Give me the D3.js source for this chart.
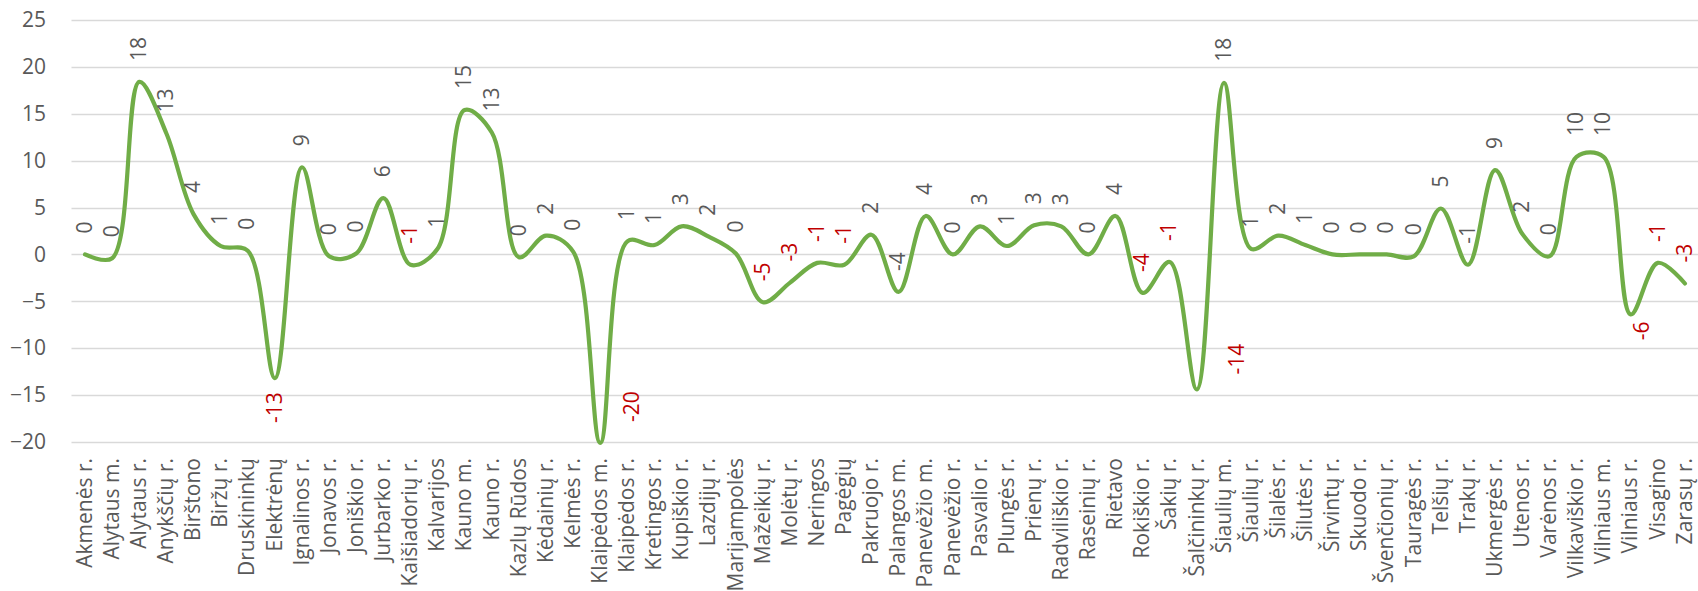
<!DOCTYPE html>
<html>
<head>
<meta charset="utf-8">
<script src="https://cdn.jsdelivr.net/npm/d3@7"></script>
<style>
  html, body { margin: 0; padding: 0; background: #ffffff; }
  svg { display: block; }
  text { font-family: "Open Sans", "Noto Sans", sans-serif; }
</style>
</head>
<body>
<svg id="chart" width="1698" height="591"></svg>
<script>
// ---- data ----
const categories = [
  "Akmenės r.", "Alytaus m.", "Alytaus r.", "Anykščių r.", "Birštono", "Biržų r.",
  "Druskininkų", "Elektrėnų", "Ignalinos r.", "Jonavos r.", "Joniškio r.", "Jurbarko r.",
  "Kaišiadorių r.", "Kalvarijos", "Kauno m.", "Kauno r.", "Kazlų Rūdos", "Kėdainių r.",
  "Kelmės r.", "Klaipėdos m.", "Klaipėdos r.", "Kretingos r.", "Kupiškio r.", "Lazdijų r.",
  "Marijampolės", "Mažeikių r.", "Molėtų r.", "Neringos", "Pagėgių", "Pakruojo r.",
  "Palangos m.", "Panevėžio m.", "Panevėžio r.", "Pasvalio r.", "Plungės r.", "Prienų r.",
  "Radviliškio r.", "Raseinių r.", "Rietavo", "Rokiškio r.", "Šakių r.", "Šalčininkų r.",
  "Šiaulių m.", "Šiaulių r.", "Šilalės r.", "Šilutės r.", "Širvintų r.", "Skuodo r.",
  "Švenčionių r.", "Tauragės r.", "Telšių r.", "Trakų r.", "Ukmergės r.", "Utenos r.",
  "Varėnos r.", "Vilkaviškio r.", "Vilniaus m.", "Vilniaus r.", "Visagino", "Zarasų r."
];
const values = [
  0.0, -0.4, 18.4, 12.9, 4.3, 0.9,
  0.4, -13.2, 9.3, -0.2, 0.1, 6.0,
  -1.1, 0.6, 15.4, 13.0, -0.3, 2.0,
  0.3, -20.1, 1.4, 1.0, 3.0, 1.9,
  0.1, -5.1, -3.0, -0.9, -1.1, 2.1,
  -4.0, 4.1, 0.0, 3.0, 0.9, 3.1,
  3.0, 0.0, 4.1, -4.1, -0.8, -14.4,
  18.3, 0.6, 2.0, 1.0, 0.0, 0.0,
  0.0, -0.2, 4.9, -1.1, 9.0, 2.2,
  -0.2, 10.4, 10.4, -6.4, -0.9, -3.1
];
const yTicks = [25, 20, 15, 10, 5, 0, -5, -10, -15, -20];

// ---- layout / style config ----
const W = 1698, H = 591;
const plot = { left: 71.5, right: 1698.5, top: 20, bottom: 442 };
const textColor = "#595959";
const negColor = "#C00000";
const lineColor = "#70AD47";
const gridColor = "#D9D9D9";
const fontSize = 21;
// label placement overrides (layout only)
const labelPlacement = {
  "Elektrėnų": { side: "below", gap: 14, dx: 0 },
  "Klaipėdos m.": { side: "above", gap: 21, dx: 32 },
  "Šalčininkų r.": { side: "above", gap: 15, dx: 40 },
  "Vilniaus r.": { side: "below", gap: 7, dx: 12 }
};
const neutralLabels = new Set(["Palangos m.", "Trakų r."]);

const svg = d3.select("#chart");

const x = d3.scaleBand().domain(categories).range([plot.left, plot.right]).paddingInner(0).paddingOuter(0);
const y = d3.scaleLinear().domain([-20, 25]).range([plot.bottom, plot.top]);
const cx = c => x(c) + x.bandwidth() / 2;

// gridlines
svg.append("g").selectAll("line").data(yTicks).join("line")
  .attr("x1", plot.left).attr("x2", W)
  .attr("y1", d => Math.round(y(d)) + 0.5).attr("y2", d => Math.round(y(d)) + 0.5)
  .attr("stroke", gridColor).attr("stroke-width", 1.3);

// y axis labels
const yAxis = d3.axisLeft(y).tickValues(yTicks).tickSize(0).tickPadding(0);
const gy = svg.append("g").attr("transform", `translate(46,0)`).call(yAxis);
gy.select(".domain").remove();
gy.selectAll("text").attr("fill", textColor).style("font-size", fontSize + "px")
  .style("font-family", '"Open Sans", "Noto Sans", sans-serif');

// x axis labels (rotated)
const xAxis = d3.axisBottom(x).tickSize(0).tickPadding(0);
const gx = svg.append("g").attr("transform", `translate(0,${plot.bottom})`).call(xAxis);
gx.select(".domain").remove();
gx.selectAll("text")
  .attr("fill", textColor).style("font-size", fontSize + "px")
  .style("font-family", '"Open Sans", "Noto Sans", sans-serif')
  .attr("text-anchor", "end")
  .attr("transform", "translate(0,16) rotate(-90)")
  .attr("x", 0).attr("y", 0).attr("dy", "0.32em");

// line
const pts = categories.map((c, i) => ({ c, v: values[i] }));
const line = d3.line().x(d => cx(d.c)).y(d => y(d.v)).curve(d3.curveCatmullRom.alpha(0.5));
svg.append("path").datum(pts)
  .attr("d", line).attr("fill", "none")
  .attr("stroke", lineColor).attr("stroke-width", 4.2)
  .attr("stroke-linejoin", "round").attr("stroke-linecap", "round");

// data labels
const lbl = svg.append("g");
pts.forEach(d => {
  const r = Math.round(d.v);
  const txt = String(r === 0 ? 0 : r);
  const p = labelPlacement[d.c] || { side: "above", gap: 21, dx: 0 };
  const px = cx(d.c) + p.dx;
  let ay, anchor;
  if (p.side === "below") { ay = y(d.v) + p.gap; anchor = "end"; }
  else { ay = y(d.v) - p.gap; anchor = "start"; }
  const color = (r < 0 && !neutralLabels.has(d.c)) ? negColor : textColor;
  lbl.append("text")
    .attr("transform", `translate(${px},${ay}) rotate(-90)`)
    .attr("text-anchor", anchor)
    .attr("dy", "0.32em")
    .attr("fill", color)
    .style("font-size", fontSize + "px")
    .text(txt);
});
</script>
</body>
</html>
